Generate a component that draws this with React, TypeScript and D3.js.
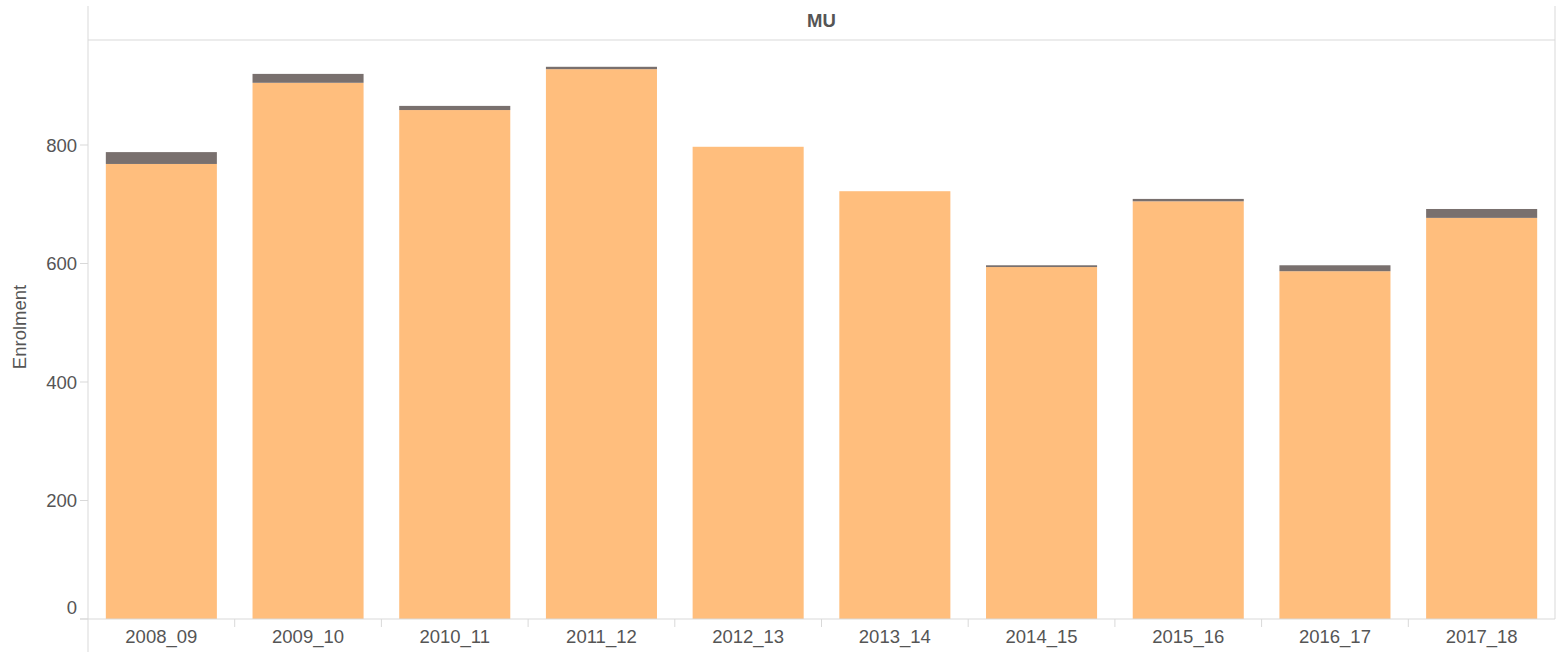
import React from "react";
import * as d3 from "d3";

const categories = ["2008_09", "2009_10", "2010_11", "2011_12", "2012_13", "2013_14", "2014_15", "2015_16", "2016_17", "2017_18"];
const baseValues = [768, 905, 859, 928, 797, 722, 594, 705, 587, 677];
const topValues = [20, 15, 7, 4, 0, 0, 3, 4, 10, 15];
const yTicks = [0, 200, 400, 600, 800];
const panelTitle = "MU";
const yTitle = "Enrolment";

const W = 1557;
const H = 652;
const left = 88;
const right = 1555;
const top = 6;
const headerBottom = 40;
const zeroY = 619;

export default function App() {
  const x = d3.scaleBand<string>().domain(categories).range([left, right]).paddingInner(0.243).paddingOuter(0.1215);
  const y = d3.scaleLinear().domain([0, 800]).range([zeroY, 145]);
  const step = x.step();
  const font = "Arial, 'Liberation Sans', sans-serif";
  const textColor = "#555";
  const lineColor = "#d9d9d9";
  const stacked = categories.map((c, i) => ({ c, b: baseValues[i], t: topValues[i] }));
  return (
    <svg width={W} height={H} style={{ position: "absolute", left: 0, top: 0, background: "#fff" }} fontFamily={font}>
      {/* bars */}
      {stacked.map((d) => (
        <g key={d.c}>
          <rect x={x(d.c)} y={y(d.b)} width={x.bandwidth()} height={y(0) - y(d.b)} fill="#FFBE7D" />
          {d.t > 0 && (
            <rect x={x(d.c)} y={y(d.b + d.t)} width={x.bandwidth()} height={y(d.b) - y(d.b + d.t)} fill="#79706E" />
          )}
        </g>
      ))}
      {/* frame */}
      <line x1={left} x2={left} y1={top} y2={H} stroke={lineColor} strokeWidth={1} />
      <line x1={right} x2={right} y1={top} y2={zeroY} stroke={lineColor} strokeWidth={1} />
      <line x1={left} x2={right} y1={headerBottom} y2={headerBottom} stroke={lineColor} strokeWidth={1} />
      <line x1={left - 8} x2={right} y1={zeroY} y2={zeroY} stroke={lineColor} strokeWidth={1} />
      <text x={(left + right) / 2} y={20} textAnchor="middle" dominantBaseline="central" fontSize={18.5} fontWeight="bold" fill={textColor}>
        {panelTitle}
      </text>
      {/* y axis */}
      {yTicks.map((t) => (
        <g key={t}>
          <line x1={left - 8} x2={left} y1={y(t)} y2={y(t)} stroke={lineColor} />
          <text x={left - 11} y={t === 0 ? y(t) - 12 : y(t)} textAnchor="end" dominantBaseline="central" fontSize={18.5} fill={textColor}>
            {t}
          </text>
        </g>
      ))}
      <text transform={`translate(19,327) rotate(-90)`} textAnchor="middle" dominantBaseline="central" fontSize={18.5} fill={textColor}>
        {yTitle}
      </text>
      {/* x axis */}
      {categories.map((c, i) => (
        <g key={c}>
          {i > 0 && <line x1={left + step * i} x2={left + step * i} y1={zeroY} y2={zeroY + 8} stroke={lineColor} />}
          <text x={(x(c) as number) + x.bandwidth() / 2} y={636} textAnchor="middle" dominantBaseline="central" fontSize={18.5} fill={textColor}>
            {c}
          </text>
        </g>
      ))}
    </svg>
  );
}
